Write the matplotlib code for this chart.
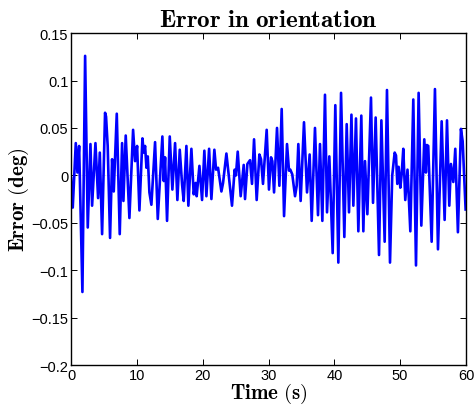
import matplotlib
matplotlib.use("Agg")
import matplotlib.pyplot as plt

plt.rcParams["mathtext.fontset"] = "cm"

# extrema (time in s, error in deg)
TIME = [
    0.0, 0.25, 0.71, 0.96, 1.22, 1.72, 2.13, 2.53, 2.94, 3.19, 3.70, 4.10, 4.36, 4.71,
    5.16, 5.31, 5.56, 5.92, 6.23, 6.48, 6.94, 7.39, 7.75, 7.95, 8.30, 8.86, 9.42, 9.72,
    10.03, 10.38, 10.84, 11.04, 11.24, 11.45, 11.65, 11.90, 12.20, 12.76, 13.17, 13.62,
    13.87, 14.08, 14.28, 14.58, 14.99, 15.39, 15.80, 16.15, 16.51, 16.87, 17.11, 17.52,
    17.82, 18.28, 18.63, 18.93, 19.08, 19.50, 19.90, 20.25, 20.56, 20.97, 21.32, 21.77,
    22.03, 22.33, 22.84, 23.09, 23.60, 24.45, 24.85, 25.05, 25.32, 25.77, 26.23, 26.43,
    26.79, 27.19, 27.49, 27.80, 28.20, 28.61, 28.86, 29.16, 29.72, 30.07, 30.38, 30.58,
    30.84, 31.29, 31.65, 32.00, 32.36, 32.81, 33.11, 33.31, 33.61, 34.03, 34.28, 34.53,
    34.88, 35.39, 35.85, 36.25, 36.56, 37.06, 37.52, 37.82, 38.18, 38.58, 38.89, 39.24,
    39.75, 40.15, 40.61, 41.02, 41.52, 41.88, 42.23, 42.60, 42.89, 43.29, 43.65, 44.10,
    44.41, 44.66, 45.02, 45.57, 45.88, 46.28, 46.79, 47.15, 47.65, 48.00, 48.46, 48.80,
    49.17, 49.37, 49.57, 49.77, 50.03, 50.23, 50.48, 50.78, 51.12, 51.55, 52.00, 52.41,
    52.81, 53.22, 53.67, 53.92, 54.07, 54.27, 54.79, 55.29, 55.75, 56.31, 56.76, 57.12,
    57.47, 57.72, 58.08, 58.38, 58.78, 59.24, 59.50, 59.95,
]
ERROR = [
    -0.003, -0.034, 0.034, 0.003, 0.031, -0.123, 0.126, -0.055, 0.033, -0.032, 0.034, -0.024, 0.024, -0.062,
    0.066, 0.062, 0.031, -0.066, 0.017, -0.017, 0.065, -0.062, 0.034, -0.027, 0.042, -0.045, 0.048, 0.015,
    0.031, -0.037, 0.039, 0.024, 0.031, 0.008, 0.020, -0.018, -0.031, 0.035, -0.046, 0.010,
    0.041, -0.006, 0.019, -0.048, 0.041, -0.015, 0.034, -0.026, 0.027, -0.010, -0.027, 0.031,
    -0.032, 0.028, -0.020, -0.008, -0.022, 0.010, -0.026, 0.026, -0.022, 0.028, -0.025, 0.027,
    0.006, 0.008, -0.017, -0.008, 0.023, -0.032, 0.006, 0.000, 0.025, -0.022, 0.011, -0.025,
    0.012, 0.016, -0.009, 0.038, -0.026, 0.022, 0.017, -0.009, 0.048, -0.015, 0.019, 0.015,
    -0.018, 0.050, -0.011, 0.070, -0.043, 0.033, 0.005, 0.006, 0.001, -0.022, -0.011, 0.033,
    -0.027, 0.056, -0.018, 0.022, -0.048, 0.050, -0.042, 0.033, -0.048, 0.085, -0.039, 0.020,
    -0.082, 0.074, -0.092, 0.087, -0.065, 0.054, -0.039, 0.064, -0.032, 0.060, -0.059, 0.063,
    -0.059, 0.015, -0.041, 0.082, -0.029, 0.061, -0.084, 0.058, -0.070, 0.090, -0.092, 0.000,
    0.024, 0.021, -0.009, 0.009, -0.013, 0.001, 0.028, -0.026, 0.006, -0.059, 0.080, -0.095,
    0.087, -0.053, 0.038, 0.003, 0.032, 0.031, -0.070, 0.091, -0.078, 0.057, -0.047, 0.058,
    -0.032, 0.012, -0.007, 0.028, -0.060, 0.049, 0.036, -0.036,
]

X_TICKS = [0, 10, 20, 30, 40, 50, 60]
Y_TICKS = [-0.2, -0.15, -0.1, -0.05, 0, 0.05, 0.1, 0.15]
Y_TICK_LABELS = ["\u22120.2", "\u22120.15", "\u22120.1", "\u22120.05", "0", "0.05", "0.1", "0.15"]

fig = plt.figure(figsize=(4.74, 4.06), dpi=100)
ax = fig.add_axes([0.150, 0.0985, 0.833, 0.8175])

ax.axhline(0.0, color="#b0b0b0", linestyle=":", linewidth=0.6, zorder=1)
ax.plot(TIME, ERROR, color="#0000ff", linewidth=1.9, zorder=2)

ax.set_xlim(0, 60)
ax.set_ylim(-0.2, 0.15)
ax.set_xticks(X_TICKS)
ax.set_xticklabels([str(t) for t in X_TICKS], fontfamily="Liberation Sans", fontsize=10.5)
ax.set_yticks(Y_TICKS)
ax.set_yticklabels(Y_TICK_LABELS, fontfamily="Liberation Sans", fontsize=10.5)
ax.tick_params(direction="in", top=True, right=True, length=4, width=0.7, pad=2)
for spine in ax.spines.values():
    spine.set_linewidth(1.0)

ax.set_title(r"$\mathbf{Error\ in\ orientation}$", fontsize=18, pad=5)
ax.set_xlabel(r"$\mathbf{Time\ (s)}$", fontsize=15, labelpad=-1)
ax.set_ylabel(r"$\mathbf{Error\ (deg)}$", fontsize=15, labelpad=0)

fig.savefig("out.png", dpi=100)
